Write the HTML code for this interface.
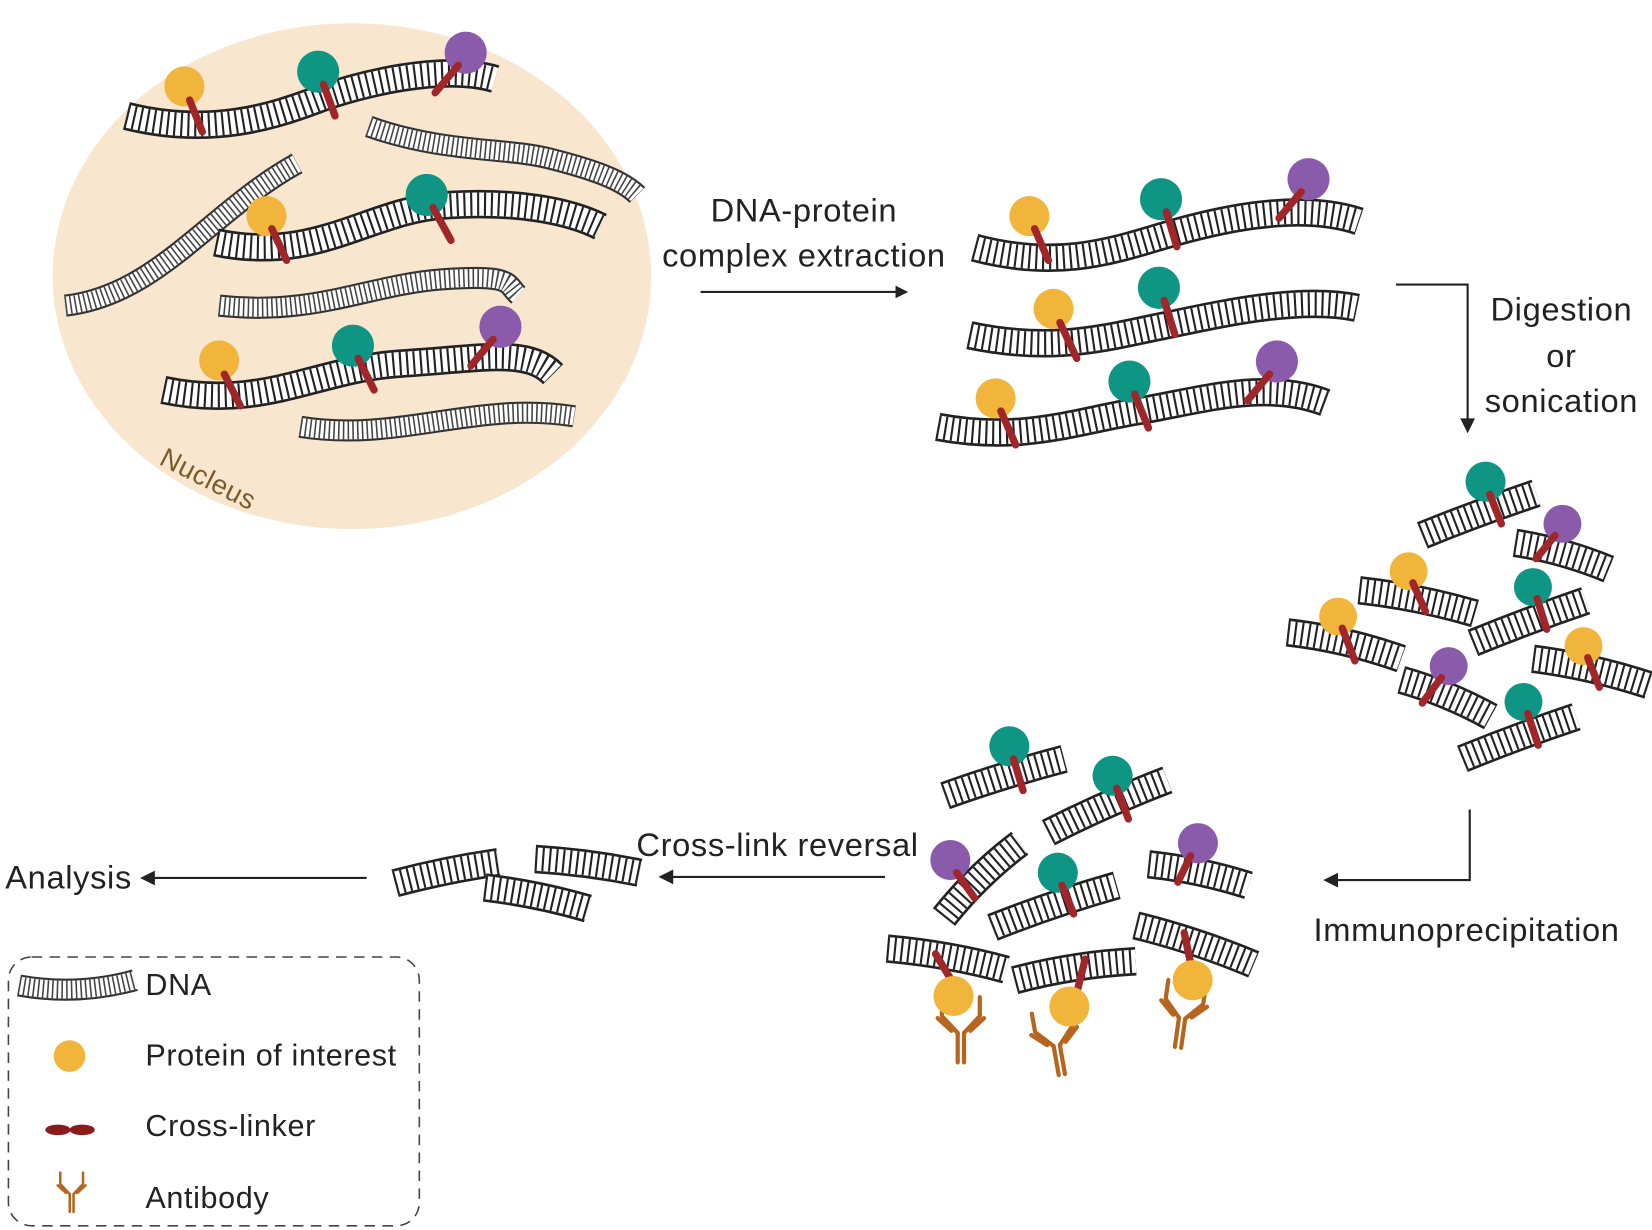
<!DOCTYPE html>
<html><head><meta charset="utf-8"><style>
html,body{margin:0;padding:0;background:#fff;}
svg{display:block;}
.o{fill:none;stroke:#222;stroke-width:27;}
.w{fill:none;stroke:#fff;stroke-width:22;}
.r{fill:none;stroke:#222;stroke-width:22;stroke-dasharray:2 4.5;}
.go{fill:none;stroke:#333;stroke-width:21;}
.gw{fill:none;stroke:#fff;stroke-width:17;}
.gr{fill:none;stroke:#444;stroke-width:17;stroke-dasharray:1.5 3;}
.ln{stroke:#a0262a;stroke-width:7;stroke-linecap:round;}
.t{font-family:"Liberation Sans",sans-serif;font-size:31px;letter-spacing:0.6px;fill:#222;}
.ab{fill:none;stroke:#b5651d;stroke-width:4;stroke-linecap:round;}
.ar{stroke:#222;stroke-width:2;fill:none;}
</style></head><body>
<svg width="1652" height="1230" viewBox="0 0 1568 1167" preserveAspectRatio="none" xmlns="http://www.w3.org/2000/svg" xmlns:xlink="http://www.w3.org/1999/xlink">
<defs>
<path id="n1" d="M120,110 C200,130 260,110 300,95 S420,60 470,75"/>
<path id="n2" d="M350,120 C420,145 480,140 520,150 S590,170 605,185"/>
<path id="n3" d="M62,290 C150,280 200,200 282,155"/>
<path id="n4" d="M205,230 C300,250 350,200 420,195 S540,200 570,215"/>
<path id="n5" d="M208,290 C300,300 350,270 420,265 S480,270 492,280"/>
<path id="n6" d="M155,370 C250,390 300,350 380,345 S500,330 525,355"/>
<path id="n7" d="M285,405 C380,420 450,380 545,395"/>
<path id="e1" d="M925,235 C1000,255 1050,240 1100,225 S1230,190 1290,210"/>
<path id="e2" d="M920,318 C1000,335 1050,320 1100,310 S1230,280 1288,292"/>
<path id="e3" d="M890,405 C970,420 1020,400 1080,390 S1200,360 1258,382"/>
<path id="f1" d="M1350,508 Q1404,486 1458,468"/>
<path id="f2" d="M1438,515 Q1483,522 1527,540"/>
<path id="f3" d="M1290,560 Q1345,566 1400,582"/>
<path id="f4" d="M1398,610 Q1452,588 1505,570"/>
<path id="f5" d="M1222,600 Q1276,606 1330,625"/>
<path id="f6" d="M1455,625 Q1510,632 1565,650"/>
<path id="f7" d="M1330,645 Q1373,657 1415,680"/>
<path id="f8" d="M1388,720 Q1442,698 1496,680"/>
<path id="g1" d="M897,755 Q953,735 1010,720"/>
<path id="g2" d="M995,790 Q1050,762 1108,740"/>
<path id="g3" d="M896,870 Q928,830 968,800"/>
<path id="g4" d="M942,880 Q1000,857 1060,840"/>
<path id="g5" d="M1090,820 Q1138,825 1185,840"/>
<path id="g6" d="M842,900 Q900,905 955,920"/>
<path id="g7" d="M963,930 Q1020,915 1078,912"/>
<path id="g8" d="M1078,878 Q1135,892 1190,915"/>
<path id="c1" d="M375,838 Q424,825 473,818"/>
<path id="c2" d="M460,842 Q510,848 558,862"/>
<path id="c3" d="M508,815 Q558,818 607,828"/>
<path id="l1" d="M18,935 Q73,945 128,930"/>
<g id="ab"><path class="ab" d="M-3,0 L-3,28 M3,0 L3,28"/><path class="ab" d="M-3,0 L-18,-16 L-18,-34 M-9,-2 L-22,-14"/><path class="ab" d="M3,0 L18,-16 L18,-34 M9,-2 L22,-14"/></g>
</defs>
<ellipse cx="334" cy="262" rx="284" ry="240" fill="#f8e6cf"/>
<text class="t" x="150" y="440" transform="rotate(27 150 440)" style="fill:#7a5a2a;font-size:26px">Nucleus</text>

<g>
<use xlink:href="#n2" class="go"/><use xlink:href="#n2" class="gw"/><use xlink:href="#n2" class="gr"/>
<use xlink:href="#n3" class="go"/><use xlink:href="#n3" class="gw"/><use xlink:href="#n3" class="gr"/>
<use xlink:href="#n5" class="go"/><use xlink:href="#n5" class="gw"/><use xlink:href="#n5" class="gr"/>
<use xlink:href="#n7" class="go"/><use xlink:href="#n7" class="gw"/><use xlink:href="#n7" class="gr"/>
<use xlink:href="#n1" class="o"/><use xlink:href="#n1" class="w"/><use xlink:href="#n1" class="r"/>
<use xlink:href="#n4" class="o"/><use xlink:href="#n4" class="w"/><use xlink:href="#n4" class="r"/>
<use xlink:href="#n6" class="o"/><use xlink:href="#n6" class="w"/><use xlink:href="#n6" class="r"/>
<use xlink:href="#e1" class="o"/><use xlink:href="#e1" class="w"/><use xlink:href="#e1" class="r"/>
<use xlink:href="#e2" class="o"/><use xlink:href="#e2" class="w"/><use xlink:href="#e2" class="r"/>
<use xlink:href="#e3" class="o"/><use xlink:href="#e3" class="w"/><use xlink:href="#e3" class="r"/>
<use xlink:href="#f1" class="o"/><use xlink:href="#f1" class="w"/><use xlink:href="#f1" class="r"/>
<use xlink:href="#f2" class="o"/><use xlink:href="#f2" class="w"/><use xlink:href="#f2" class="r"/>
<use xlink:href="#f3" class="o"/><use xlink:href="#f3" class="w"/><use xlink:href="#f3" class="r"/>
<use xlink:href="#f4" class="o"/><use xlink:href="#f4" class="w"/><use xlink:href="#f4" class="r"/>
<use xlink:href="#f5" class="o"/><use xlink:href="#f5" class="w"/><use xlink:href="#f5" class="r"/>
<use xlink:href="#f6" class="o"/><use xlink:href="#f6" class="w"/><use xlink:href="#f6" class="r"/>
<use xlink:href="#f7" class="o"/><use xlink:href="#f7" class="w"/><use xlink:href="#f7" class="r"/>
<use xlink:href="#f8" class="o"/><use xlink:href="#f8" class="w"/><use xlink:href="#f8" class="r"/>
<use xlink:href="#g1" class="o"/><use xlink:href="#g1" class="w"/><use xlink:href="#g1" class="r"/>
<use xlink:href="#g2" class="o"/><use xlink:href="#g2" class="w"/><use xlink:href="#g2" class="r"/>
<use xlink:href="#g3" class="o"/><use xlink:href="#g3" class="w"/><use xlink:href="#g3" class="r"/>
<use xlink:href="#g4" class="o"/><use xlink:href="#g4" class="w"/><use xlink:href="#g4" class="r"/>
<use xlink:href="#g5" class="o"/><use xlink:href="#g5" class="w"/><use xlink:href="#g5" class="r"/>
<use xlink:href="#g6" class="o"/><use xlink:href="#g6" class="w"/><use xlink:href="#g6" class="r"/>
<use xlink:href="#g7" class="o"/><use xlink:href="#g7" class="w"/><use xlink:href="#g7" class="r"/>
<use xlink:href="#g8" class="o"/><use xlink:href="#g8" class="w"/><use xlink:href="#g8" class="r"/>
<use xlink:href="#c1" class="o"/><use xlink:href="#c1" class="w"/><use xlink:href="#c1" class="r"/>
<use xlink:href="#c2" class="o"/><use xlink:href="#c2" class="w"/><use xlink:href="#c2" class="r"/>
<use xlink:href="#c3" class="o"/><use xlink:href="#c3" class="w"/><use xlink:href="#c3" class="r"/>
<use xlink:href="#l1" class="go"/><use xlink:href="#l1" class="gw"/><use xlink:href="#l1" class="gr"/>
</g>

<g>
<circle cx="175" cy="82" r="19" fill="#f2b53c"/><line class="ln" x1="180" y1="95" x2="192" y2="125"/>
<circle cx="302" cy="68" r="20" fill="#0e9584"/><line class="ln" x1="307" y1="80" x2="318" y2="110"/>
<circle cx="442" cy="50" r="20" fill="#8a5aab"/><line class="ln" x1="435" y1="62" x2="413" y2="88"/>
<circle cx="253" cy="205" r="19" fill="#f2b53c"/><line class="ln" x1="258" y1="217" x2="272" y2="247"/>
<circle cx="405" cy="185" r="20" fill="#0e9584"/><line class="ln" x1="411" y1="197" x2="428" y2="228"/>
<circle cx="208" cy="342" r="19" fill="#f2b53c"/><line class="ln" x1="213" y1="355" x2="228" y2="385"/>
<circle cx="335" cy="328" r="20" fill="#0e9584"/><line class="ln" x1="340" y1="340" x2="355" y2="370"/>
<circle cx="475" cy="310" r="20" fill="#8a5aab"/><line class="ln" x1="468" y1="322" x2="447" y2="347"/>

<circle cx="977" cy="205" r="19" fill="#f2b53c"/><line class="ln" x1="982" y1="217" x2="995" y2="247"/>
<circle cx="1102" cy="189" r="20" fill="#0e9584"/><line class="ln" x1="1107" y1="201" x2="1117" y2="234"/>
<circle cx="1242" cy="170" r="20" fill="#8a5aab"/><line class="ln" x1="1235" y1="182" x2="1214" y2="207"/>
<circle cx="1000" cy="293" r="19" fill="#f2b53c"/><line class="ln" x1="1006" y1="306" x2="1022" y2="340"/>
<circle cx="1100" cy="273" r="20" fill="#0e9584"/><line class="ln" x1="1105" y1="285" x2="1115" y2="317"/>
<circle cx="945" cy="378" r="19" fill="#f2b53c"/><line class="ln" x1="950" y1="390" x2="964" y2="422"/>
<circle cx="1072" cy="362" r="20" fill="#0e9584"/><line class="ln" x1="1077" y1="374" x2="1090" y2="406"/>
<circle cx="1212" cy="343" r="20" fill="#8a5aab"/><line class="ln" x1="1205" y1="355" x2="1184" y2="380"/>

<circle cx="1410" cy="457" r="19" fill="#0e9584"/><line class="ln" x1="1414" y1="469" x2="1425" y2="497"/>
<circle cx="1483" cy="497" r="18" fill="#8a5aab"/><line class="ln" x1="1476" y1="508" x2="1458" y2="530"/>
<circle cx="1337" cy="542" r="18" fill="#f2b53c"/><line class="ln" x1="1341" y1="553" x2="1353" y2="580"/>
<circle cx="1455" cy="557" r="18" fill="#0e9584"/><line class="ln" x1="1459" y1="568" x2="1468" y2="597"/>
<circle cx="1270" cy="585" r="18" fill="#f2b53c"/><line class="ln" x1="1274" y1="596" x2="1286" y2="627"/>
<circle cx="1503" cy="613" r="18" fill="#f2b53c"/><line class="ln" x1="1507" y1="624" x2="1518" y2="652"/>
<circle cx="1375" cy="632" r="18" fill="#8a5aab"/><line class="ln" x1="1368" y1="643" x2="1350" y2="667"/>
<circle cx="1446" cy="666" r="18" fill="#0e9584"/><line class="ln" x1="1450" y1="677" x2="1460" y2="707"/>

<circle cx="958" cy="708" r="19" fill="#0e9584"/><line class="ln" x1="962" y1="720" x2="971" y2="750"/>
<circle cx="1056" cy="736" r="19" fill="#0e9584"/><line class="ln" x1="1060" y1="748" x2="1071" y2="777"/>
<circle cx="902" cy="816" r="19" fill="#8a5aab"/><line class="ln" x1="908" y1="828" x2="925" y2="852"/>
<circle cx="1004" cy="828" r="19" fill="#0e9584"/><line class="ln" x1="1008" y1="840" x2="1019" y2="867"/>
<circle cx="1137" cy="800" r="19" fill="#8a5aab"/><line class="ln" x1="1130" y1="812" x2="1118" y2="837"/>
<use xlink:href="#ab" transform="translate(912,980)"/>
<use xlink:href="#ab" transform="translate(1003,992) rotate(-10)"/>
<use xlink:href="#ab" transform="translate(1122,966) rotate(8)"/>
<line class="ln" x1="888" y1="905" x2="903" y2="930"/><circle cx="905" cy="945" r="19" fill="#f2b53c"/>
<line class="ln" x1="1030" y1="910" x2="1022" y2="942"/><circle cx="1015" cy="955" r="19" fill="#f2b53c"/>
<line class="ln" x1="1124" y1="885" x2="1131" y2="918"/><circle cx="1132" cy="930" r="19" fill="#f2b53c"/>
</g>

<line class="ar" x1="665" y1="277" x2="852" y2="277"/><polygon points="862,277 850,271 850,283" fill="#222"/>
<polyline class="ar" points="1325,270 1393,270 1393,400"/><polygon points="1393,411 1386,397 1400,397" fill="#222"/>
<polyline class="ar" points="1395,768 1395,835 1268,835"/><polygon points="1256,835 1270,828 1270,842" fill="#222"/>
<line class="ar" x1="840" y1="832" x2="638" y2="832"/><polygon points="625,832 639,825 639,839" fill="#222"/>
<line class="ar" x1="348" y1="833" x2="146" y2="833"/><polygon points="133,833 147,826 147,840" fill="#222"/>

<text class="t" x="763" y="210" text-anchor="middle">DNA-protein</text>
<text class="t" x="763" y="253" text-anchor="middle">complex extraction</text>
<text class="t" x="1482" y="304" text-anchor="middle">Digestion</text>
<text class="t" x="1482" y="348" text-anchor="middle">or</text>
<text class="t" x="1482" y="391" text-anchor="middle">sonication</text>
<text class="t" x="1392" y="893" text-anchor="middle">Immunoprecipitation</text>
<text class="t" x="738" y="812" text-anchor="middle">Cross-link reversal</text>
<text class="t" x="5" y="843">Analysis</text>

<rect x="8" y="908" width="390" height="255" rx="22" fill="none" stroke="#444" stroke-width="1.5" stroke-dasharray="10 7"/>
<text class="t" x="138" y="944" style="font-size:29px">DNA</text>
<circle cx="66" cy="1002" r="15" fill="#f2b53c"/>
<text class="t" x="138" y="1011" style="font-size:29px">Protein of interest</text>
<ellipse cx="55" cy="1072" rx="12" ry="5" fill="#8b1a1a"/><ellipse cx="78" cy="1072" rx="12" ry="5" fill="#8b1a1a"/>
<text class="t" x="138" y="1078" style="font-size:29px">Cross-linker</text>
<use xlink:href="#ab" transform="translate(68,1133) scale(0.6)"/>
<text class="t" x="138" y="1146" style="font-size:29px">Antibody</text>
</svg>
</body></html>
